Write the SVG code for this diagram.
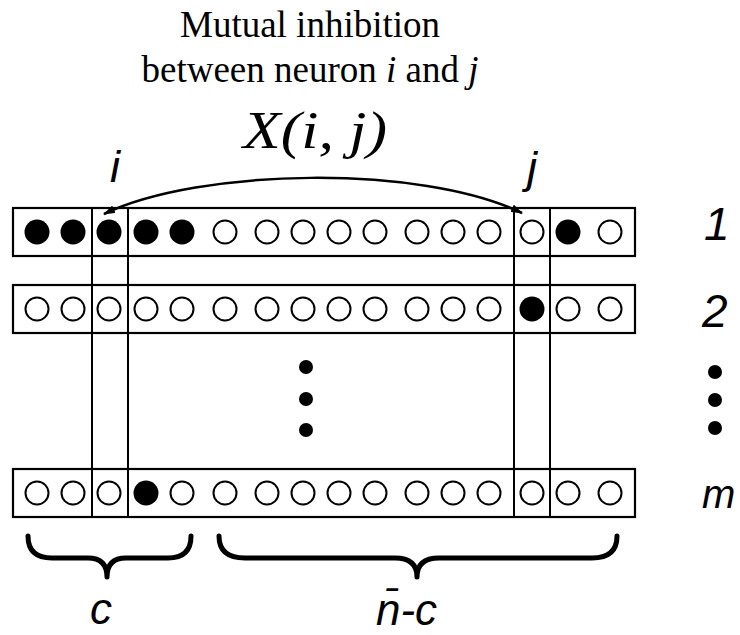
<svg xmlns="http://www.w3.org/2000/svg" xmlns:xlink="http://www.w3.org/1999/xlink" width="740" height="635" viewBox="0 0 740 635">
<style>
.box{fill:none;stroke:#000;stroke-width:2.2}
.col{stroke:#000;stroke-width:2}
.o{fill:#fff;stroke:#000;stroke-width:2}
.f{fill:#000}
.serif{font-family:"Liberation Serif","Times New Roman",serif;fill:#000}
.sans{font-family:"Liberation Sans",Arial,sans-serif;font-style:italic;fill:#000}
.brace{fill:none;stroke:#000;stroke-width:5;stroke-linecap:round;stroke-linejoin:round}
.arc{fill:none;stroke:#000;stroke-width:2.5}
</style>
<defs>
<circle id="oc" r="11.5" class="o"/>
<circle id="fc" r="12.5" class="f"/>
<marker id="ah" viewBox="0 0 12 8" refX="11" refY="4" markerWidth="12" markerHeight="8" markerUnits="userSpaceOnUse" orient="auto-start-reverse">
<path d="M0,0 L12,4 L0,8 Z" fill="#000"/>
</marker>
</defs>
<rect width="740" height="635" fill="#fff"/>

<g id="title">
<text class="serif" x="310" y="37" font-size="37" text-anchor="middle">Mutual inhibition</text>
<text class="serif" x="310" y="82" font-size="37" text-anchor="middle">between neuron <tspan font-style="italic">i</tspan> and <tspan font-style="italic">j</tspan></text>
<text class="serif" x="243" y="148" font-size="52" font-style="italic" textLength="144" lengthAdjust="spacingAndGlyphs">X(i, j)</text>
</g>

<g id="row-1">
<rect class="box" x="13" y="208" width="622" height="48"/>
<use xlink:href="#fc" x="37" y="232"/><use xlink:href="#fc" x="73" y="232"/><use xlink:href="#fc" x="109" y="232"/><use xlink:href="#fc" x="146" y="232"/><use xlink:href="#fc" x="182" y="232"/>
<use xlink:href="#oc" x="225" y="232"/><use xlink:href="#oc" x="267" y="232"/><use xlink:href="#oc" x="303" y="232"/><use xlink:href="#oc" x="339" y="232"/><use xlink:href="#oc" x="375" y="232"/><use xlink:href="#oc" x="417" y="232"/><use xlink:href="#oc" x="453" y="232"/><use xlink:href="#oc" x="489" y="232"/>
<use xlink:href="#oc" x="532" y="232"/><use xlink:href="#fc" x="568" y="232"/><use xlink:href="#oc" x="610" y="232"/>
</g>

<g id="row-2">
<rect class="box" x="13" y="285" width="622" height="48"/>
<use xlink:href="#oc" x="37" y="309"/><use xlink:href="#oc" x="73" y="309"/><use xlink:href="#oc" x="109" y="309"/><use xlink:href="#oc" x="146" y="309"/><use xlink:href="#oc" x="182" y="309"/>
<use xlink:href="#oc" x="225" y="309"/><use xlink:href="#oc" x="267" y="309"/><use xlink:href="#oc" x="303" y="309"/><use xlink:href="#oc" x="339" y="309"/><use xlink:href="#oc" x="375" y="309"/><use xlink:href="#oc" x="417" y="309"/><use xlink:href="#oc" x="453" y="309"/><use xlink:href="#oc" x="489" y="309"/>
<use xlink:href="#fc" x="532" y="309"/><use xlink:href="#oc" x="568" y="309"/><use xlink:href="#oc" x="610" y="309"/>
</g>

<g id="row-m">
<rect class="box" x="13" y="469" width="622" height="48"/>
<use xlink:href="#oc" x="37" y="493"/><use xlink:href="#oc" x="73" y="493"/><use xlink:href="#oc" x="109" y="493"/><use xlink:href="#fc" x="146" y="493"/><use xlink:href="#oc" x="182" y="493"/>
<use xlink:href="#oc" x="225" y="493"/><use xlink:href="#oc" x="267" y="493"/><use xlink:href="#oc" x="303" y="493"/><use xlink:href="#oc" x="339" y="493"/><use xlink:href="#oc" x="375" y="493"/><use xlink:href="#oc" x="417" y="493"/><use xlink:href="#oc" x="453" y="493"/><use xlink:href="#oc" x="489" y="493"/>
<use xlink:href="#oc" x="532" y="493"/><use xlink:href="#oc" x="568" y="493"/><use xlink:href="#oc" x="610" y="493"/>
</g>

<g id="columns">
<line class="col" x1="92" y1="208" x2="92" y2="517"/>
<line class="col" x1="128" y1="208" x2="128" y2="517"/>
<line class="col" x1="514" y1="208" x2="514" y2="517"/>
<line class="col" x1="550" y1="208" x2="550" y2="517"/>
</g>

<g id="vdots">
<circle class="f" cx="306" cy="367" r="7"/>
<circle class="f" cx="306" cy="399" r="7"/>
<circle class="f" cx="306" cy="430" r="7"/>
</g>

<g id="labels">
<text class="sans" x="110" y="182" font-size="45">i</text>
<text class="sans" x="527" y="183" font-size="45">j</text>
<text class="sans" x="704" y="240" font-size="46">1</text>
<text class="sans" x="702" y="327" font-size="46">2</text>
<circle class="f" cx="715" cy="372" r="7"/>
<circle class="f" cx="715" cy="400" r="7"/>
<circle class="f" cx="715" cy="428" r="7"/>
<text class="sans" x="702" y="508" font-size="40">m</text>
<text class="sans" x="90" y="624" font-size="44">c</text>
<text class="sans" x="376" y="625" font-size="44">n̄-c</text>
</g>

<g id="braces">
<path class="brace" d="M28,536 Q28,558 52,558 L88,558 Q107,558 107,577 Q107,558 126,558 L168,558 Q191,558 191,536"/>
<path class="brace" d="M219,536 Q219,558 245,558 L395,558 Q417,558 417,577 Q417,558 439,558 L592,558 Q617,558 617,536"/>
</g>

<g id="connectors">
<path class="arc" d="M104,214 C200,168 420,164 522,213" marker-start="url(#ah)" marker-end="url(#ah)"/>
</g>
</svg>
